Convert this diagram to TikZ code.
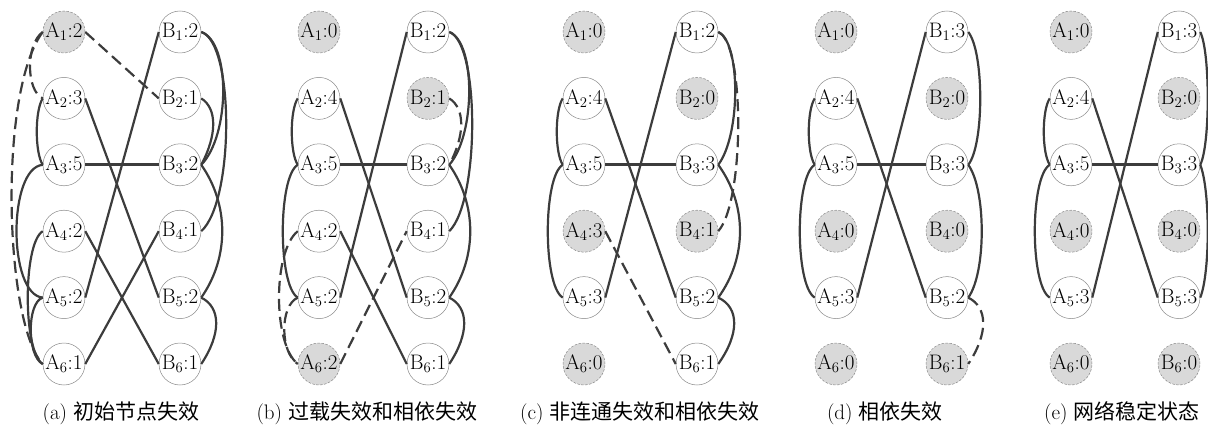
\documentclass[tikz,border=0pt]{standalone}
\usepackage{fontspec}
\newfontfamily\cjk{Noto Sans CJK SC}
\definecolor{edgec}{HTML}{3C3C3C}
\definecolor{ndc}{HTML}{8A8A8A}
\definecolor{fillc}{HTML}{D9D9D9}
\newcommand\mkpanel[4]{%
  \foreach \i/\la/\sa/\lb/\sb in {#4}{%
    \node[\sa] (#1A\i) at (#2,{32+66.4*(\i-1)}) {A\textsubscript{\i}:\la};
    \node[\sb] (#1B\i) at (#3,{32+66.4*(\i-1)}) {B\textsubscript{\i}:\lb};
  }}
\newcommand\rc[4][ed]{\draw[#1] (#2.east) .. controls +({1.33*#4},10) and +({1.33*#4},-30) .. (#3.east);}
\newcommand\lc[4][ed]{\draw[#1] (#2.west) .. controls +({-1.33*#4},12) and +({-1.33*#4},-12) .. (#3.west);}
\begin{document}
\begin{tikzpicture}[x=1pt,y=-1pt,
  nd/.style={circle,draw=ndc,line width=0.5pt,minimum size=42pt,inner sep=0pt,font=\fontsize{21}{23}\selectfont},
  fl/.style={nd,fill=fillc,dash pattern=on 2.5pt off 1.5pt},
  ed/.style={draw=edgec,line width=2.2pt},
  de/.style={ed,dash pattern=on 12pt off 6pt},
  thk/.style={ed,line width=3.2pt},
  captxt/.style={font=\fontsize{21}{24}\selectfont}]
\useasboundingbox (0,0) rectangle (1208,425);

% ---------- panel (a)
\mkpanel{a}{64}{180}{1/2/fl/2/nd,2/3/nd/1/nd,3/5/nd/2/nd,4/2/nd/1/nd,5/2/nd/2/nd,6/1/nd/1/nd}
\draw[de] (aA1.east) -- (aB2.west);
\draw[de] (aA1.west) .. controls +(-17,12) and +(-17,-8) .. (aA2.west);
\draw[de] (aA1.west) .. controls +(-45,60) and +(-38,-40) .. (aA6.west);
\lc{aA2}{aA3}{6}
\draw[ed] (aA3.west) .. controls +(-35,3) and +(-35,-3) .. (aA5.west);
\draw[ed] (aA4.west) .. controls +(-20,12) and +(-20,-12) .. (aA6.west);
\draw[ed] (aA5.west) .. controls +(-16,5) and +(-16,-8) .. (aA6.west);
\draw[ed] (aA2.east) -- (aB5.west);
\draw[thk] (aA3.east) -- (aB3.west);
\draw[ed] (aA4.east) -- (aB6.west);
\draw[ed] (aA5.east) -- (aB1.west);
\draw[ed] (aA6.east) -- (aB4.west);
\rc{aB1}{aB3}{22}
\rc{aB1}{aB4}{25}
\rc{aB2}{aB3}{12}
\draw[ed] (aB3.east) .. controls +(28,40) and +(28,-40) .. (aB5.east);
\rc{aB5}{aB6}{15}
\node[captxt] (capa) at (121,413) {(a) {\cjk 初始节点失效}};

% ---------- panel (b)
\mkpanel{b}{319}{428}{1/0/fl/2/nd,2/4/nd/1/fl,3/5/nd/2/nd,4/2/nd/1/nd,5/2/nd/2/nd,6/2/fl/1/nd}
\lc{bA2}{bA3}{6}
\lc{bA3}{bA5}{15}
\draw[de] (bA4.west) .. controls +(-25,20) and +(-25,-20) .. (bA6.west);
\draw[de] (bA5.west) .. controls +(-18,8) and +(-18,-12) .. (bA6.west);
\draw[ed] (bA2.east) -- (bB5.west);
\draw[thk] (bA3.east) -- (bB3.west);
\draw[ed] (bA4.east) -- (bB6.west);
\draw[ed] (bA5.east) -- (bB1.west);
\draw[de] (bA6.east) -- (bB4.west);
\rc{bB1}{bB3}{20}
\rc{bB1}{bB4}{23}
\rc[de]{bB2}{bB3}{12}
\draw[ed] (bB3.east) .. controls +(28,40) and +(28,-40) .. (bB5.east);
\rc{bB5}{bB6}{15}
\node[captxt] (capb) at (367,413) {(b) {\cjk 过载失效和相依失效}};

% ---------- panel (c)
\mkpanel{c}{584}{697}{1/0/fl/2/nd,2/4/nd/0/fl,3/5/nd/3/nd,4/3/fl/1/fl,5/3/nd/2/nd,6/0/fl/1/nd}
\lc{cA2}{cA3}{6}
\lc{cA3}{cA5}{15}
\draw[ed] (cA2.east) -- (cB5.west);
\draw[thk] (cA3.east) -- (cB3.west);
\draw[de] (cA4.east) -- (cB6.west);
\draw[ed] (cA5.east) -- (cB1.west);
\rc{cB1}{cB3}{17}
\rc[de]{cB1}{cB4}{20}
\draw[ed] (cB3.east) .. controls +(29,40) and +(29,-40) .. (cB5.east);
\rc{cB5}{cB6}{16}
\node[captxt] (capc) at (640,413) {(c) {\cjk 非连通失效和相依失效}};

% ---------- panel (d)
\mkpanel{d}{836}{947}{1/0/fl/3/nd,2/4/nd/0/fl,3/5/nd/3/nd,4/0/fl/0/fl,5/3/nd/2/nd,6/0/fl/1/fl}
\lc{dA2}{dA3}{6}
\lc{dA3}{dA5}{15}
\draw[ed] (dA2.east) -- (dB5.west);
\draw[thk] (dA3.east) -- (dB3.west);
\draw[ed] (dA5.east) -- (dB1.west);
\draw[ed] (dB1.east) .. controls +(16,20) and +(16,-20) .. (dB3.east);
\draw[ed] (dB3.east) .. controls +(18,25) and +(18,-25) .. (dB5.east);
\rc[de]{dB5}{dB6}{15}
\node[captxt] (capd) at (885,413) {(d) {\cjk 相依失效}};

% ---------- panel (e)
\mkpanel{e}{1071}{1179}{1/0/fl/3/nd,2/4/nd/0/fl,3/5/nd/3/nd,4/0/fl/0/fl,5/3/nd/3/nd,6/0/fl/0/fl}
\lc{eA2}{eA3}{6}
\lc{eA3}{eA5}{15}
\draw[ed] (eA2.east) -- (eB5.west);
\draw[thk] (eA3.east) -- (eB3.west);
\draw[ed] (eA5.east) -- (eB1.west);
\draw[ed] (eB1.east) .. controls +(10,20) and +(10,-20) .. (eB3.east);
\draw[ed] (eB3.east) .. controls +(10,25) and +(10,-25) .. (eB5.east);
\node[captxt] (cape) at (1122,413) {(e) {\cjk 网络稳定状态}};
\end{tikzpicture}
\end{document}
